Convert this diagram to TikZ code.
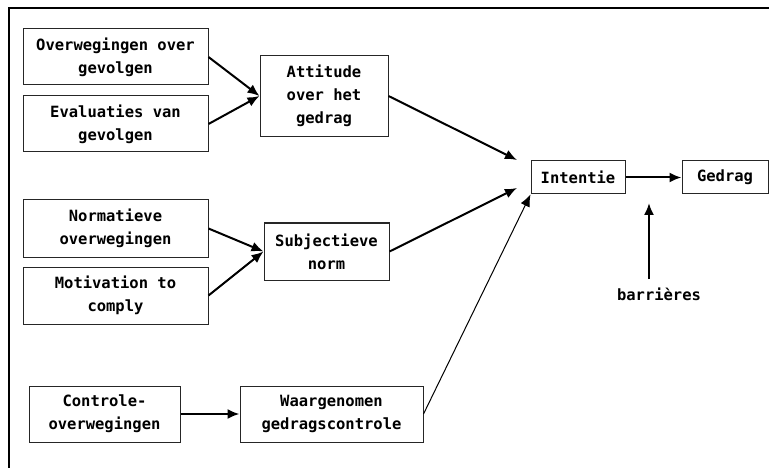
\documentclass[tikz,border=0pt]{standalone}
\usepackage{fontspec}
\setmonofont{DejaVu Sans Mono}
\usetikzlibrary{arrows.meta}

\begin{document}
\begin{tikzpicture}[x=1pt, y=-1pt]
    \tikzstyle{factor}=[draw=black!85, line width=1pt, align=center, inner sep=0pt, font=\ttfamily\bfseries\fontsize{15.5}{23}\selectfont]
    \tikzstyle{link}=[-{Latex[length=12pt, width=10pt]}, line width=2pt]

    \useasboundingbox (0, 0) rectangle (769, 468);
    \draw[line width=2.5pt] (9, 468) -- (9, 8) -- (769, 8);

    % beliefs
    \node[factor, minimum width=185pt, minimum height=56pt] (over) at (115.5, 57) {Overwegingen over\\gevolgen};
    \node[factor, minimum width=185pt, minimum height=56pt] (eval) at (115.5, 124) {Evaluaties van\\gevolgen};
    \node[factor, minimum width=185pt, minimum height=57pt] (norm) at (115.5, 228.5) {Normatieve\\overwegingen};
    \node[factor, minimum width=185pt, minimum height=57pt] (motiv) at (115.5, 295.5) {Motivation to\\comply};
    \node[factor, minimum width=151pt, minimum height=56pt] (contr) at (104.5, 414) {Controle-\\overwegingen};

    % determinants
    \node[factor, minimum width=128pt, minimum height=81pt] (att) at (324, 96) {Attitude\\over het\\gedrag};
    \node[factor, minimum width=125pt, minimum height=57pt] (subj) at (326.5, 251.5) {Subjectieve\\norm};
    \node[factor, minimum width=183pt, minimum height=56pt] (waar) at (331.5, 414) {Waargenomen\\gedragscontrole};

    \node[factor, minimum width=94pt, minimum height=33pt] (int) at (578, 177.5) {Intentie};
    \node[factor, minimum width=86pt, minimum height=33pt] (gedrag) at (725, 177.5) {Gedrag};
    \node[font=\ttfamily\bfseries\fontsize{15.5}{23}\selectfont, inner sep=0pt] (barr) at (659, 294) {barri\`eres};

    \coordinate (intA) at (517, 160);
    \coordinate (intS) at (517, 188);
    \coordinate (barrtip) at (649, 203);

    \foreach \i in {over, eval}
        \draw[link] (\i.east) -- (att.west);
    \foreach \i in {norm, motiv}
        \draw[link] (\i.east) -- (subj.west);
    \draw[link] (contr.east) -- (waar.west);

    \draw[link] (att.east) -- (intA);
    \draw[link] (subj.east) -- (intS);
    \draw[-{Latex[length=12pt, width=10pt]}, line width=1pt] (waar.east) -- (int.south west);
    \draw[link] (int.east) -- (gedrag.west);
    \draw[link] (barrtip |- 0, 279) -- (barrtip);
\end{tikzpicture}
\end{document}
